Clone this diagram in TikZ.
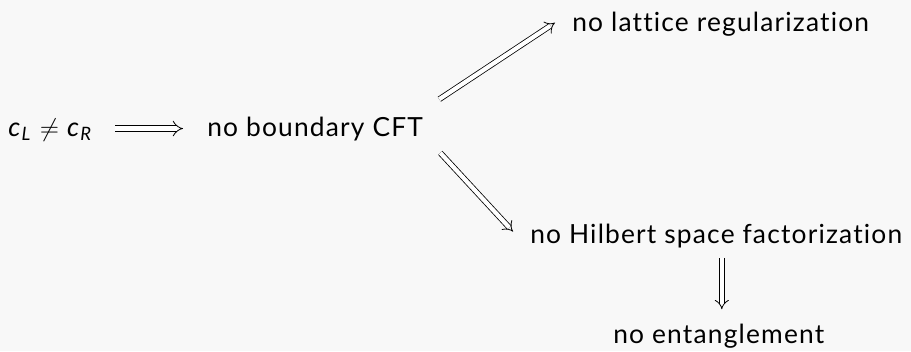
\documentclass[tikz,border=0pt]{standalone}
\usepackage{fontspec}
\setmainfont{Lato}[Ligatures={NoCommon}, LetterSpace=4.5]
\usepackage{tikz}
\usetikzlibrary{arrows.meta,positioning,calc}
\definecolor{bgpaper}{HTML}{F8F8F8}

\begin{document}
\begin{tikzpicture}[
    x=0.02cm, y=-0.02cm,
    claim/.style={inner sep=0pt, anchor=base west, font=\fontsize{15}{18}\selectfont},
    imp/.style={double, double distance=2.4pt, line width=0.45pt, -{Implies}},
]
    \fill[bgpaper] (0,0) rectangle (911,351);
    \useasboundingbox (0,0) rectangle (911,351);

    \node[claim] (cond) at (8,136) {\textit{c}\textsubscript{\textit{L}} $\neq$ \textit{c}\textsubscript{\textit{R}}};
    \node[claim] (cft) at (207,136) {no boundary CFT};
    \node[claim] (lattice) at (572,32) {no lattice regularization};
    \node[claim] (hilbert) at (530,243) {no Hilbert space factorization};
    \node[claim] (ent) at (613,343) {no entanglement};

    \draw[imp, double distance=2.7pt] ($(cft.west -| cond.east)+(22,0)$) -- ($(cft.west)+(-24,0)$);
    \draw[imp] ([shift={(16,-17)}]cft.north east) -- ([shift={(-17,-2)}]lattice.west);
    \draw[imp] ([shift={(17,12)}]cft.south east) -- ([shift={(-17,-4)}]hilbert.west);
    \draw[imp] ($(ent.north |- hilbert.south)+(3,10)$) -- ($(ent.north)+(3,-14)$);
\end{tikzpicture}
\end{document}
